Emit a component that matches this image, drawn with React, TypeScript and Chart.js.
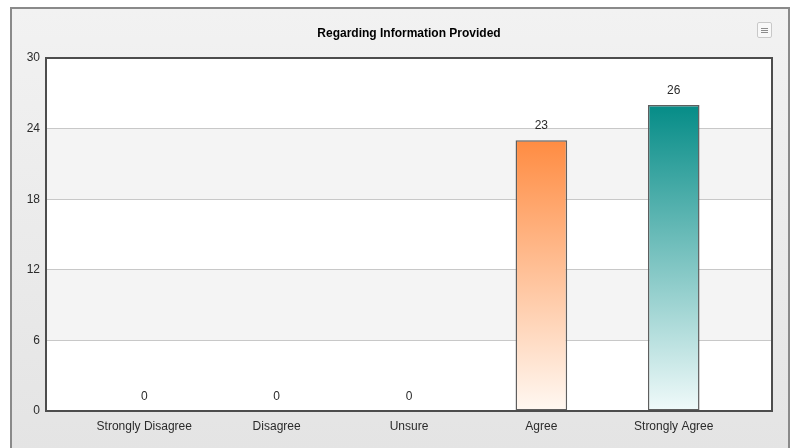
import React, { useEffect, useRef } from "react";
import { Chart, registerables } from "chart.js";

Chart.register(...registerables);

const chartTitle = "Regarding Information Provided";
const categories = ["Strongly Disagree", "Disagree", "Unsure", "Agree", "Strongly Agree"];
const responses = [0, 0, 0, 23, 26];
const topColors = ["#ff8c42", "#ff8c42", "#ff8c42", "#ff8c42", "#058c87"];
const bottomColors = ["#fff8f2", "#fff8f2", "#fff8f2", "#fff8f2", "#f0fafa"];
const yTicks = [0, 6, 12, 18, 24, 30];

const FONT = "'Liberation Sans', Arial, sans-serif";

const bandsPlugin = {
  id: "bands",
  beforeDraw(chart: any) {
    const { ctx, chartArea } = chart;
    const y = chart.scales.y;
    ctx.save();
    ctx.fillStyle = "#ffffff";
    ctx.fillRect(chartArea.left, chartArea.top, chartArea.right - chartArea.left, chartArea.bottom - chartArea.top);
    ctx.fillStyle = "#f4f4f4";
    for (let i = 1; i < yTicks.length - 1; i += 2) {
      const y0 = y.getPixelForValue(yTicks[i]);
      const y1 = y.getPixelForValue(yTicks[i + 1]);
      ctx.fillRect(chartArea.left, y1, chartArea.right - chartArea.left, y0 - y1);
    }
    ctx.restore();
  },
  afterDraw(chart: any) {
    const { ctx, chartArea } = chart;
    ctx.save();
    ctx.strokeStyle = "#4d4d4d";
    ctx.lineWidth = 2;
    ctx.strokeRect(chartArea.left + 1, chartArea.top, chartArea.right - chartArea.left - 2, chartArea.bottom - chartArea.top);
    ctx.restore();
  },
};

const labelsPlugin = {
  id: "valueLabels",
  afterDatasetsDraw(chart: any) {
    const { ctx } = chart;
    const meta = chart.getDatasetMeta(0);
    ctx.save();
    ctx.font = `12px ${FONT}`;
    ctx.fillStyle = "#2b2b2b";
    ctx.textAlign = "center";
    ctx.textBaseline = "middle";
    meta.data.forEach((el: any, i: number) => {
      ctx.fillText(String(responses[i]), el.x, el.y - 14.5);
    });
    ctx.restore();
  },
};

export default function App() {
  const canvasRef = useRef<HTMLCanvasElement | null>(null);

  useEffect(() => {
    if (!canvasRef.current) return;
    const chart = new Chart(canvasRef.current, {
      type: "bar",
      data: {
        datasets: [
          {
            label: "Responses",
            data: responses.map((v, i) => ({ x: i, y: v })),
            backgroundColor: (c: any) => {
              const ch = c.chart;
              const i = c.dataIndex;
              if (!ch.chartArea || !ch.scales.y || i === undefined) return topColors[0];
              const ys = ch.scales.y;
              const top = ys.getPixelForValue(responses[i]);
              const bottom = ys.getPixelForValue(0);
              if (bottom - top < 1) return topColors[i];
              const g = ch.ctx.createLinearGradient(0, top, 0, bottom);
              g.addColorStop(0, topColors[i]);
              g.addColorStop(1, bottomColors[i]);
              return g;
            },
            borderColor: "#5e5e5e",
            borderWidth: (c: any) => (responses[c.dataIndex] > 0 ? 1.5 : 0),
            borderSkipped: false,
            barPercentage: 0.39,
            categoryPercentage: 1,
          },
        ],
      },
      options: {
        responsive: false,
        animation: false,
        layout: { padding: { left: 0, right: 20, top: 0, bottom: 0 } },
        plugins: {
          legend: { display: false },
          tooltip: { enabled: false },
          title: {
            display: true,
            text: chartTitle,
            fullSize: false,
            color: "#000000",
            font: { family: FONT, size: 12, weight: "bold" },
            padding: { top: 26.8, bottom: 16.8 },
          },
        },
        scales: {
          x: {
            type: "linear",
            offset: false,
            min: -0.75,
            max: 4.75,
            afterBuildTicks: (s: any) => {
              s.ticks = categories.map((_, i) => ({ value: i }));
            },
            afterFit: (s: any) => {
              s.height = 37;
            },
            ticks: {
              callback: (v: any) => categories[v] ?? "",
              color: "#2b2b2b",
              font: { family: FONT, size: 12 },
              padding: 8,
              maxRotation: 0,
              autoSkip: false,
            },
            grid: { display: false, drawTicks: false, offset: false },
            border: { display: false },
          },
          y: {
            min: 0,
            max: 30,
            afterBuildTicks: (s: any) => {
              s.ticks = yTicks.map((v) => ({ value: v }));
            },
            afterFit: (s: any) => {
              s.width = 45;
            },
            ticks: {
              color: "#2b2b2b",
              font: { family: FONT, size: 12 },
              padding: 5,
            },
            grid: { color: "#c8c8c8", drawTicks: false },
            border: { display: false },
          },
        },
      },
      plugins: [bandsPlugin, labelsPlugin],
    });
    return () => chart.destroy();
  }, []);

  return (
    <div style={{ position: "fixed", left: 0, top: 0, width: 793, height: 448, overflow: "hidden", background: "#ffffff" }}>
      <div
        style={{
          position: "absolute",
          left: 10,
          top: 7,
          width: 780,
          height: 470,
          boxSizing: "border-box",
          border: "2px solid #8a8a8a",
          background: "linear-gradient(#f2f2f2, #e4e4e4 441px)",
        }}
      />
      <canvas ref={canvasRef} width={793} height={448} style={{ position: "absolute", left: 0, top: 0 }} />
      <div
        style={{
          position: "absolute",
          left: 757,
          top: 22,
          width: 15,
          height: 16,
          boxSizing: "border-box",
          border: "1px solid #c8c8c8",
          borderRadius: 2,
          background: "#f8f8f8",
        }}
      >
        {[5, 7, 9].map((t) => (
          <div key={t} style={{ position: "absolute", left: 3, top: t, width: 7, height: 1, background: "#8c8c8c" }} />
        ))}
      </div>
    </div>
  );
}
